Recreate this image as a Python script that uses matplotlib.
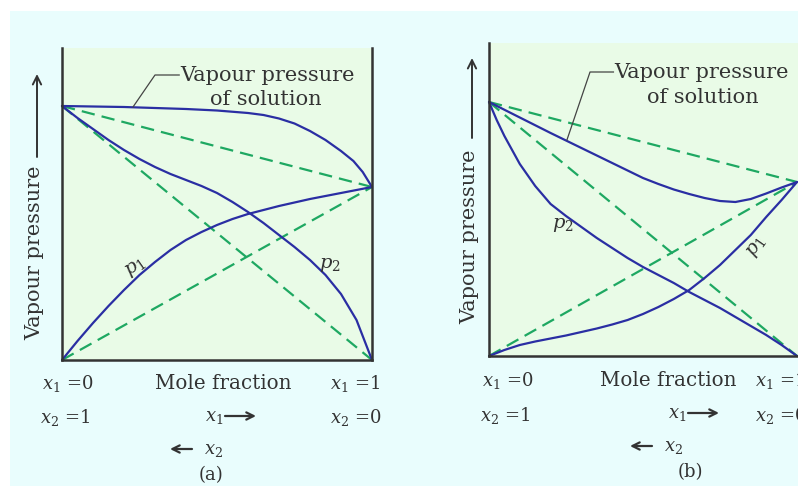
import matplotlib
matplotlib.use("Agg")
import matplotlib.pyplot as plt
from matplotlib.patches import Rectangle

plt.rcParams['font.family'] = ['DejaVu Serif']
plt.rcParams['mathtext.fontset'] = 'dejavuserif'

W, H = 798, 486

# --- values (x = mole fraction of component 1, y = pressure units) ---
# panel (a): positive deviation
a_total_x = [0, 0.1, 0.2, 0.3, 0.4, 0.5, 0.6, 0.65, 0.7, 0.75, 0.8, 0.85, 0.9, 0.94, 0.97, 1]
a_total_y = [254, 253.5, 253, 252, 251, 249.5, 247, 245, 241.5, 236.5, 229, 220, 209, 199, 188, 173]
a_p1_x = [0, 0.05, 0.1, 0.15, 0.2, 0.25, 0.3, 0.35, 0.4, 0.45, 0.5, 0.55, 0.6, 0.7, 0.8, 0.9, 1]
a_p1_y = [0, 19, 37, 54, 70, 85, 98, 110, 120, 128, 135, 141, 146, 154, 161, 167, 173]
a_p2_x = [0, 0.05, 0.1, 0.15, 0.2, 0.25, 0.3, 0.35, 0.4, 0.45, 0.5, 0.55, 0.6, 0.65, 0.7,
          0.75, 0.8, 0.85, 0.9, 0.95, 1]
a_p2_y = [254, 242, 231, 220, 210, 201, 193, 186, 180, 174, 167, 158, 148, 137, 125,
          113, 100, 85, 66, 40, 0]
a_p1_pure, a_p2_pure = 173, 254

# panel (b): negative deviation
b_total_x = [0, 0.1, 0.2, 0.3, 0.4, 0.45, 0.5, 0.55, 0.6, 0.65, 0.7, 0.75, 0.8, 0.85, 0.9, 0.95, 1]
b_total_y = [254, 238.5, 223, 208, 193, 185.5, 178, 172, 166.5, 162, 158, 155, 154, 157, 162.5, 168.5, 174]
b_p1_x = [0, 0.05, 0.1, 0.15, 0.2, 0.25, 0.3, 0.35, 0.4, 0.45, 0.5, 0.55, 0.6, 0.65, 0.7,
          0.75, 0.8, 0.85, 0.9, 0.95, 1]
b_p1_y = [0, 6, 11, 14.5, 17.5, 20.5, 24, 27.5, 31.5, 36, 42, 49, 57, 66, 78,
          91, 106, 121, 139, 156, 174]
b_p2_x = [0, 0.025, 0.05, 0.075, 0.1, 0.15, 0.2, 0.25, 0.3, 0.35, 0.4, 0.45, 0.5, 0.55, 0.6,
          0.65, 0.7, 0.75, 0.8, 0.85, 0.9, 0.95, 1]
b_p2_y = [254, 236, 220, 206, 192, 170, 152, 140, 129, 118, 108, 98, 89, 81, 73,
          64, 56, 48, 39, 30, 21, 11, 0]
b_p1_pure, b_p2_pure = 174, 254

BG = '#e9fdfd'
FILL = '#e9fbe7'
BLUE = '#2a2ea3'
GREEN = '#1ea862'
DARK = '#333333'


def fx(px):
    return px / W


def fy(py):
    return 1 - py / H


fig = plt.figure(figsize=(W / 100, H / 100), dpi=100, facecolor=BG)
# white margins at the top and left
fig.patches.append(Rectangle((0, fy(11)), 1, 1 - fy(11), transform=fig.transFigure,
                             facecolor='white', edgecolor='none', zorder=-1))
fig.patches.append(Rectangle((0, 0), fx(10), 1, transform=fig.transFigure,
                             facecolor='white', edgecolor='none', zorder=-1))


def make_axes(left, right, bottom, top, unit_w, right_spine=True):
    ax = fig.add_axes([fx(left), fy(bottom), (right - left) / W, (bottom - top) / H])
    ax.set_facecolor(FILL)
    ax.set_xlim(0, (right - left) / unit_w)
    ax.set_ylim(0, bottom - top)
    ax.set_xticks([])
    ax.set_yticks([])
    ax.spines['top'].set_visible(False)
    ax.spines['right'].set_visible(right_spine)
    for s in ax.spines.values():
        s.set_color(DARK)
        s.set_linewidth(1.8)
    return ax


def draw_panel(ax, tx, ty, p1x, p1y, p2x, p2y, p1_pure, p2_pure):
    kw = dict(color=GREEN, lw=1.6, ls=(0, (6, 3.2)), clip_on=False)
    ax.plot([0, 1], [p2_pure, p1_pure], **kw)
    ax.plot([0, 1], [p2_pure, 0], **kw)
    ax.plot([0, 1], [0, p1_pure], **kw)
    bkw = dict(color=BLUE, lw=1.6, clip_on=False, solid_capstyle='round', solid_joinstyle='round')
    ax.plot(tx, ty, **bkw)
    ax.plot(p1x, p1y, **bkw)
    ax.plot(p2x, p2y, **bkw)


def fig_arrow(x0, y0, x1, y1, lw=1.6, ms=13):
    fig.axes[0].annotate('', xy=(fx(x1), fy(y1)), xytext=(fx(x0), fy(y0)),
                         xycoords='figure fraction', textcoords='figure fraction',
                         arrowprops=dict(arrowstyle='->', color=DARK, lw=lw,
                                         mutation_scale=ms, shrinkA=0, shrinkB=0))


def bottom_labels(x0, x_mid, x1, y0, arrow_x, larrow_x, tag_x, tag):
    fs = 13
    fig.text(fx(x0), fy(y0), r'$x_1$ =0', fontsize=fs, ha='left', va='center', color=DARK)
    fig.text(fx(x_mid), fy(y0), 'Mole fraction', fontsize=14.3, ha='center', va='center', color=DARK)
    fig.text(fx(x1), fy(y0), r'$x_1$ =1', fontsize=fs, ha='left', va='center', color=DARK)
    fig.text(fx(x0 - 2), fy(y0 + 35), r'$x_2$ =1', fontsize=fs, ha='left', va='center', color=DARK)
    fig.text(fx(arrow_x), fy(y0 + 34), r'$x_1$', fontsize=fs, ha='left', va='center', color=DARK)
    fig_arrow(arrow_x + 20, y0 + 33, arrow_x + 51, y0 + 33)
    fig.text(fx(x1), fy(y0 + 35), r'$x_2$ =0', fontsize=fs, ha='left', va='center', color=DARK)
    fig_arrow(larrow_x + 22, y0 + 66, larrow_x, y0 + 66)
    fig.text(fx(larrow_x + 34), fy(y0 + 67), r'$x_2$', fontsize=fs, ha='left', va='center', color=DARK)
    fig.text(fx(tag_x), fy(y0 + 92), tag, fontsize=13, ha='center', va='center', color=DARK)


def y_label(x, y_text, y_arrow0, y_arrow1):
    fig.text(fx(x), fy(y_text), 'Vapour pressure', fontsize=15, rotation=90,
             ha='center', va='center', color=DARK)
    fig_arrow(x + 2, y_arrow0, x + 2, y_arrow1, lw=1.4, ms=15)


# ---------- panel (a) ----------
ax_a = make_axes(62, 372, 360, 48, 310)
draw_panel(ax_a, a_total_x, a_total_y, a_p1_x, a_p1_y, a_p2_x, a_p2_y, a_p1_pure, a_p2_pure)
ax_a.plot([0.229, 0.30, 0.378], [253, 285, 285], color='#444444', lw=0.9, clip_on=False)
ax_a.text(0.383, 285, 'Vapour pressure', fontsize=15, ha='left', va='center', color=DARK)
ax_a.text(0.656, 261, 'of solution', fontsize=15, ha='center', va='center', color=DARK)
ax_a.text(0.237, 92, r'$p_1$', fontsize=14, rotation=35, ha='center', va='center', color=DARK)
ax_a.text(0.865, 95, r'$p_2$', fontsize=14, ha='center', va='center', color=DARK)

# ---------- panel (b) ----------
ax_b = make_axes(489, 800, 356, 43, 308, right_spine=False)
draw_panel(ax_b, b_total_x, b_total_y, b_p1_x, b_p1_y, b_p2_x, b_p2_y, b_p1_pure, b_p2_pure)
ax_b.plot([0.253, 0.328, 0.404], [216, 284, 284], color='#444444', lw=0.9, clip_on=False)
ax_b.text(0.408, 284, 'Vapour pressure', fontsize=15, ha='left', va='center', color=DARK)
ax_b.text(0.695, 259, 'of solution', fontsize=15, ha='center', va='center', color=DARK)
ax_b.text(0.24, 131, r'$p_2$', fontsize=14, ha='center', va='center', color=DARK)
ax_b.text(0.87, 109, r'$p_1$', fontsize=14, rotation=55, ha='center', va='center', color=DARK)

# ---------- outside text ----------
y_label(35, 253, 157, 74)
bottom_labels(42, 223, 330, 383, 205, 170, 211, '(a)')
y_label(470, 237, 138, 58)
bottom_labels(482, 668, 755, 380, 668, 630, 690, '(b)')

fig.savefig('out.png', dpi=100, facecolor=BG)
